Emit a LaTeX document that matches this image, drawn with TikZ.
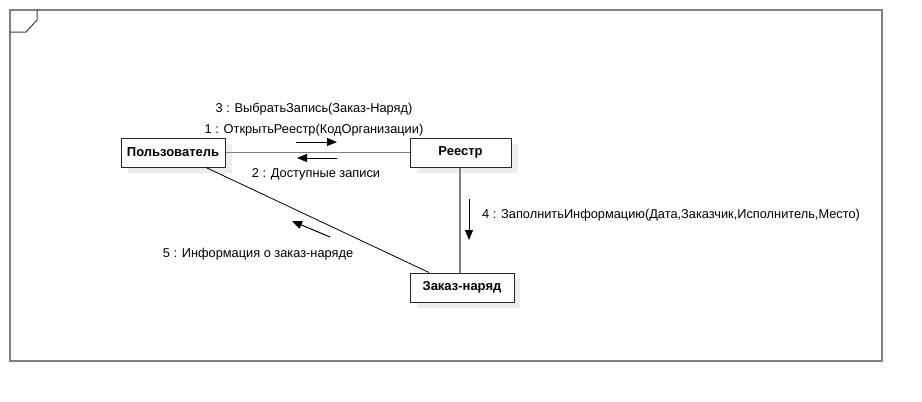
\documentclass[tikz,border=0pt]{standalone}
\usepackage{fontspec}
\setmainfont{Liberation Sans}
\usetikzlibrary{arrows.meta}
\begin{document}
\begin{tikzpicture}[x=1pt,y=-1pt,
  obj/.style={draw=black!85,line width=1pt,fill=white,minimum width=102pt,minimum height=29pt,inner sep=0pt,font=\fontsize{13}{15}\selectfont\bfseries},
  shad/.style={fill=black!7,draw=none},
  assoc/.style={draw=black!50,line width=1.2pt},
  msg/.style={draw=black,line width=1pt,-{Triangle[length=10pt,width=8pt]}},
  lbl/.style={font=\fontsize{12.8}{15}\selectfont,inner sep=0pt}]
\useasboundingbox (0,0) rectangle (922,402);
% frame
\draw[black!50,line width=1.2pt] (10,10) rectangle (882,361);
\draw[black!75,line width=1pt] (10,32) -- (26,32) -- (37,20) -- (37,10);
% shadows
\fill[shad] (128,144) rectangle (232,173);
\fill[shad] (417,144) rectangle (518,173);
\fill[shad] (417,279) rectangle (520,308);
% nodes
\node[obj,minimum width=104pt] (user) at (173,152.5) {Пользователь};
\node[obj,minimum width=101pt] (reg) at (460.5,152.5) {Реестр};
\node[obj,minimum width=104pt] (order) at (462,287.5) {Заказ-наряд};
% associations
\draw[assoc] (user.east) -- (reg.west);
\draw[assoc] (reg.south -| 460,0) -- (order.north -| 460,0);
\draw[black,line width=0.8pt] (user.south -| 206,0) -- (order.north -| 429,0);
% message arrows
\coordinate (m1a) at (296,142); \coordinate (m1b) at (337,142);
\coordinate (m2a) at (337,158); \coordinate (m2b) at (297,158);
\coordinate (m4a) at (469,199); \coordinate (m4b) at (469,240);
\coordinate (m5a) at (330,237); \coordinate (m5b) at (292,221);
\draw[msg] (m1a) -- (m1b);
\draw[msg] (m2a) -- (m2b);
\draw[msg] (m4a) -- (m4b);
\draw[msg] (m5a) -- (m5b);
% labels
\node[lbl] (l3) at (314,109) {3 : ВыбратьЗапись(Заказ-Наряд)};
\node[lbl] (l1) at (314,130) {1 : ОткрытьРеестр(КодОрганизации)};
\node[lbl] (l2) at (316,174) {2 : Доступные записи};
\node[lbl,anchor=west] (l4) at (482,215) {4 : ЗаполнитьИнформацию(Дата,Заказчик,Исполнитель,Место)};
\node[lbl] (l5) at (258,254) {5 : Информация о заказ-наряде};
\end{tikzpicture}
\end{document}
